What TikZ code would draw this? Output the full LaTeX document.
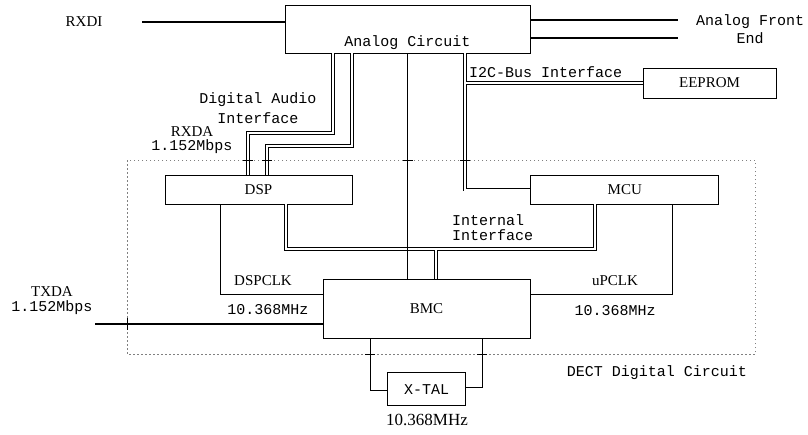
\documentclass[tikz,border=0pt]{standalone}
\usepackage{fontspec}
\setmainfont{Liberation Serif}
\newfontfamily\monofam{Liberation Mono}
\usetikzlibrary{positioning}

\begin{document}
\begin{tikzpicture}[
        x=1pt, y=-1pt,
        every node/.style={
            align=center,
            inner sep=0pt
        },
        blk/.style={
            draw,
            line width=0.8pt
        },
        mono/.style={
            font=\monofam\fontsize{15}{19}\selectfont
        },
        lbl/.style={
            font=\fontsize{15}{18}\selectfont
        },
        wire/.style={
            line width=0.8pt
        },
        bus/.style={
            line width=1.8pt
        },
        dbl/.style={
            double,
            double distance=2pt,
            line width=0.7pt
        },
        border/.style={
            gray,
            line width=0.6pt,
            dash pattern=on 1.5pt off 2.5pt
        }
    ]

    \useasboundingbox (0,0) rectangle (808,434);

    % DECT digital circuit boundary
    \draw[border] (127,160) rectangle (755,354);

    \node[blk, minimum width=245pt, minimum height=48pt,
        label={[mono, anchor=south, inner sep=4pt]south:Analog Circuit}] (analog) at (407.5,29) {};

    \node[blk, lbl, minimum width=187pt, minimum height=29pt] (dsp) at (258.5,189.5) {DSP};

    \node[blk, lbl, minimum width=188pt, minimum height=29pt, right=178pt of dsp] (mcu) {MCU};

    \node[blk, lbl, minimum width=207pt, minimum height=59pt] (bmc) at (426.5,308.5) {BMC};

    \node[blk, lbl, minimum width=133pt, minimum height=30pt] (eeprom) at (709.5,83) {EEPROM};

    \node[blk, mono, minimum width=78pt, minimum height=33pt, below=34pt of bmc] (xtal) {X-TAL};

    % labels
    \node[lbl] (rxdi) at (84,22) {RXDI};
    \node[mono, font=\monofam\fontsize{15}{18}\selectfont] (afe) at (750,29) {Analog Front\\End};
    \node[mono, anchor=south west] (i2clbl) at (469,78) {I2C-Bus Interface};
    \node[mono, font=\monofam\fontsize{15}{20}\selectfont] (dalbl) at (258,108) {Digital Audio\\Interface};
    \node[mono, font=\monofam\fontsize{15}{14.5}\selectfont] (rxda) at (192,140) {{\rmfamily RXDA}\\1.152Mbps};
    \node[mono, font=\monofam\fontsize{15}{15}\selectfont, align=left, anchor=south west] (iilbl) at (452,241) {Internal\\Interface};
    \node[lbl] (dspclk) at (263,281) {DSPCLK};
    \node[mono] (dspfreq) at (268,310) {10.368MHz};
    \node[lbl] (upclk) at (615,281) {uPCLK};
    \node[mono] (upfreq) at (615,311) {10.368MHz};
    \node[mono, font=\monofam\fontsize{15}{15}\selectfont] (txda) at (52,301) {{\rmfamily TXDA}\\1.152Mbps};
    \node[font=\fontsize{17}{17}\selectfont] (xfreq) at (427,420) {10.368MHz};
    \node[mono] (dectlbl) at (657,373) {DECT Digital Circuit};

    \coordinate (rxdiend) at (142,22);
    \coordinate (afetop) at (678,20);
    \coordinate (afebot) at (678,38);
    \coordinate (i2c) at (465,189.5);
    \coordinate (i2cb) at (466,83);
    \coordinate (da1) at (333,133);
    \coordinate (da1b) at (248,133);
    \coordinate (da2) at (352,146);
    \coordinate (da2b) at (267,146);
    \coordinate (ii1) at (286,249);
    \coordinate (ii2) at (595,249);
    \coordinate (iib) at (436,250);
    \coordinate (dclk) at (220,294);
    \coordinate (uclk) at (672,294);
    \coordinate (txdaend) at (95,324);
    \coordinate (xl) at (370,390);
    \coordinate (xr) at (482,387);

    \draw[wire, line width=1.3pt] (rxdiend) -- (rxdiend -| analog.west);
    \draw[bus, line width=2.6pt] (analog.east |- afetop) -- (afetop);
    \draw[bus, line width=2.6pt] (analog.east |- afebot) -- (afebot);

    \draw[dbl] (da1 |- analog.south) -- (da1) -- (da1b) -- (da1b |- dsp.north);
    \draw[dbl] (da2 |- analog.south) -- (da2) -- (da2b) -- (da2b |- dsp.north);

    \draw[dbl] (i2c |- analog.south) -- (i2c) -- (mcu.west);
    \draw[dbl] (i2cb) -- (eeprom.west);

    \draw[dbl] (ii1 |- dsp.south) -- (ii1) -- (ii2) -- (ii2 |- mcu.south);
    \draw[dbl] (iib) -- (iib |- bmc.north);

    \draw[bus] (analog.south) -- (analog.south |- bmc.north);

    \draw[wire] (dclk |- dsp.south) -- (dclk) -- (dclk -| bmc.west);
    \draw[wire] (uclk |- mcu.south) -- (uclk) -- (uclk -| bmc.east);
    \draw[bus] (txdaend) -- (txdaend -| bmc.west);

    \draw[wire] (xl |- bmc.south) -- (xl) -- (xl -| xtal.west);
    \draw[wire] (xr |- bmc.south) -- (xr) -- (xr -| xtal.east);

    % ticks on the boundary
    \foreach \tx in {248,267,408,465}
        \draw[wire] (\tx-5,160) -- (\tx+5,160);
    \foreach \tx in {370,482}
        \draw[wire] (\tx-5,354) -- (\tx+5,354);
    \draw[wire] (127,318) -- (127,330);

\end{tikzpicture}
\end{document}
